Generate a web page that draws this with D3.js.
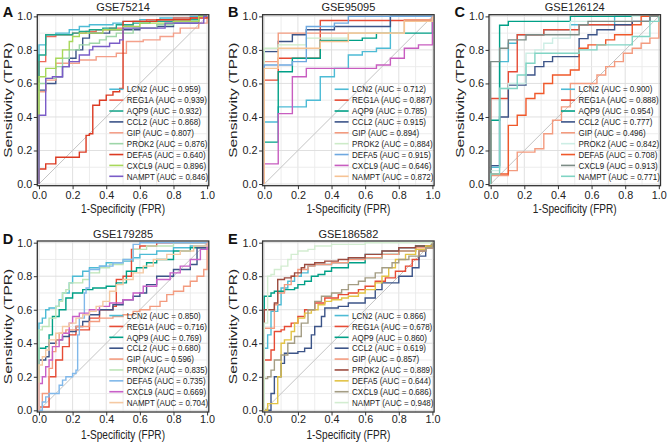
<!DOCTYPE html>
<html><head><meta charset="utf-8">
<script src="https://cdn.jsdelivr.net/npm/d3@7"></script>
<style>body{margin:0;background:#fff}svg{display:block}</style>
</head><body>
<svg id="chart" width="668" height="444"></svg>
<script>
const genes = ["LCN2","REG1A","AQP9","CCL2","GIP","PROK2","DEFA5","CXCL9","NAMPT"];
const titles = ["GSE75214","GSE95095","GSE126124","GSE179285","GSE186582"];
const letters = ["A","B","C","D","E"];
const tickValues = [0,0.2,0.4,0.6,0.8,1.0];
const tickLabels = ["0.0","0.2","0.4","0.6","0.8","1.0"];

// AUC values per dataset (legend order)
const aucA = ["0.959","0.939","0.932","0.868","0.807","0.876","0.640","0.896","0.846"];
const aucB = ["0.712","0.887","0.785","0.915","0.894","0.884","0.915","0.646","0.872"];
const aucC = ["0.900","0.888","0.954","0.777","0.496","0.842","0.708","0.913","0.771"];
const aucD = ["0.850","0.716","0.769","0.680","0.596","0.835","0.735","0.669","0.704"];
const aucE = ["0.866","0.678","0.860","0.619","0.857","0.889","0.644","0.686","0.948"];

// colours per dataset (legend order)
const colorsA = ["#4DBBD5","#EE6A5A","#1FA88E","#3C5488","#F4A08A","#9ED6A8","#DC3A22","#A8D85A","#7A5CC8"];
const colorsB = ["#4DBBD5","#E64B35","#00A087","#3C5488","#F39B7F","#CDEBC8","#6EA8E0","#C85DC0","#F6C394"];
const colorsC = ["#4DBBD5","#E64B35","#00A087","#3C5488","#F39B7F","#CDEEE5","#F0582A","#7C8C86","#80D4C4"];
const colorsD = ["#4DBBD5","#E64B35","#00A087","#3C5488","#F39B7F","#BDE5B8","#80B8EA","#C860C8","#F5C9A2"];
const colorsE = ["#4DBBD5","#E64B35","#00A087","#3C5488","#F39B7F","#9C4B3F","#E2C345","#A49D84","#D3EDD1"];

// ROC step points: [FPR, TPR reached at that FPR]
const rocA = [
 [[0,0.83],[0.04,0.89],[0.1,0.9],[0.18,0.92],[0.24,0.94],[0.3,0.95],[0.44,0.96],[0.5,0.97],[0.6,0.98],[0.72,0.99],[0.9,1]],
 [[0,0.73],[0.04,0.88],[0.1,0.89],[0.2,0.9],[0.28,0.91],[0.34,0.92],[0.42,0.93],[0.5,0.95],[0.56,0.97],[0.64,0.98],[0.8,0.99],[0.95,1]],
 [[0,0.77],[0.04,0.89],[0.2,0.9],[0.24,0.91],[0.3,0.92],[0.38,0.93],[0.46,0.95],[0.56,0.96],[0.66,0.97],[0.8,0.98],[0.95,1]],
 [[0,0.56],[0.04,0.6],[0.1,0.64],[0.14,0.7],[0.18,0.75],[0.22,0.8],[0.26,0.87],[0.3,0.9],[0.42,0.92],[0.6,0.93],[0.7,0.94],[0.8,0.96],[0.95,1]],
 [[0,0.55],[0.04,0.62],[0.1,0.72],[0.24,0.74],[0.34,0.76],[0.46,0.78],[0.52,0.85],[0.62,0.86],[0.72,0.88],[0.8,0.9],[0.84,0.93],[0.95,0.96],[1,1]],
 [[0,0.6],[0.04,0.63],[0.1,0.7],[0.14,0.75],[0.18,0.8],[0.24,0.83],[0.3,0.84],[0.36,0.86],[0.4,0.88],[0.46,0.9],[0.56,0.93],[0.7,0.95],[0.8,0.97],[0.95,1]],
 [[0,0.09],[0.04,0.12],[0.1,0.16],[0.24,0.19],[0.28,0.29],[0.3,0.3],[0.32,0.47],[0.36,0.5],[0.4,0.53],[0.44,0.55],[0.48,0.57],[0.5,0.97],[0.7,0.98],[0.9,0.99],[1,1]],
 [[0,0.64],[0.04,0.69],[0.1,0.75],[0.14,0.8],[0.18,0.85],[0.2,0.88],[0.24,0.9],[0.38,0.92],[0.5,0.94],[0.6,0.96],[0.8,0.97],[0.95,1]],
 [[0,0.41],[0.04,0.63],[0.08,0.64],[0.14,0.7],[0.18,0.73],[0.24,0.77],[0.3,0.8],[0.32,0.82],[0.42,0.84],[0.48,0.86],[0.5,0.93],[0.75,0.96],[0.98,1]]
];
const rocB = [
 [[0,0.37],[0.083,0.46],[0.25,0.5],[0.333,0.64],[0.417,0.69],[0.5,0.77],[0.583,0.79],[0.667,0.81],[0.75,1]],
 [[0,0.62],[0.083,0.75],[0.333,0.975],[1,1]],
 [[0,0.25],[0.083,0.67],[0.167,0.75],[0.333,0.857],[0.583,0.87],[0.667,0.9],[1,1]],
 [[0,0.79],[0.083,0.85],[0.167,0.89],[0.25,0.92],[0.417,0.94],[0.75,1]],
 [[0,0.73],[0.083,0.9],[0.833,0.98],[1,1]],
 [[0,0.81],[0.083,0.83],[0.25,0.87],[0.5,0.9],[0.833,0.97],[1,1]],
 [[0,0.71],[0.167,0.73],[0.25,0.94],[0.417,0.96],[0.5,1]],
 [[0,0.12],[0.083,0.42],[0.167,0.64],[0.25,0.69],[0.667,0.71],[0.75,0.75],[0.833,0.81],[0.917,0.83],[1,1]],
 [[0,0.69],[0.083,0.81],[0.333,0.85],[0.5,0.9],[0.833,0.97],[1,1]]
];
const rocC = [
 [[0,0.1],[0.053,0.73],[0.105,0.84],[0.158,0.89],[0.316,0.92],[0.474,0.95],[0.737,1]],
 [[0,0.51],[0.105,0.67],[0.158,0.89],[0.316,0.92],[0.526,0.95],[0.842,1]],
 [[0,0.38],[0.053,0.947],[0.105,0.97],[0.474,1]],
 [[0,0.11],[0.053,0.4],[0.105,0.59],[0.21,0.65],[0.263,0.7],[0.316,0.73],[0.368,0.76],[0.526,0.867],[0.579,0.89],[0.632,0.92],[0.737,0.95],[0.842,0.97],[0.947,1]],
 [[0,0.05],[0.105,0.08],[0.158,0.19],[0.263,0.21],[0.316,0.3],[0.368,0.38],[0.421,0.46],[0.474,0.6],[0.632,0.65],[0.684,0.7],[0.737,0.73],[0.789,0.78],[0.842,0.81],[0.895,0.84],[0.947,0.87],[1,1]],
 [[0,0.08],[0.053,0.57],[0.105,0.6],[0.21,0.78],[0.263,0.8],[0.316,0.84],[0.368,0.87],[0.474,0.97],[0.842,1]],
 [[0,0.06],[0.105,0.35],[0.158,0.41],[0.21,0.51],[0.263,0.54],[0.316,0.6],[0.368,0.65],[0.474,0.68],[0.526,0.81],[0.579,0.83],[0.684,0.86],[0.737,0.89],[0.842,0.95],[0.895,1]],
 [[0,0.73],[0.053,0.81],[0.105,0.86],[0.21,0.89],[0.526,0.95],[0.579,0.97],[0.947,1]],
 [[0,0.06],[0.053,0.57],[0.158,0.65],[0.21,0.72],[0.263,0.78],[0.526,0.8],[0.632,0.83],[0.842,0.88],[0.947,0.97],[1,1]]
];
const rocD = [
 [[0,0.52],[0.02,0.55],[0.04,0.6],[0.06,0.61],[0.1,0.62],[0.12,0.66],[0.14,0.7],[0.18,0.76],[0.2,0.8],[0.26,0.83],[0.3,0.85],[0.36,0.86],[0.4,0.88],[0.5,0.89],[0.56,0.91],[0.6,0.93],[0.7,0.95],[0.8,0.97],[0.9,0.98],[1,1]],
 [[0,0.02],[0.06,0.2],[0.1,0.3],[0.14,0.38],[0.18,0.45],[0.22,0.48],[0.3,0.55],[0.36,0.6],[0.44,0.62],[0.46,0.78],[0.5,0.8],[0.55,0.96],[0.6,0.98],[0.7,1]],
 [[0,0.37],[0.04,0.38],[0.06,0.45],[0.08,0.56],[0.12,0.6],[0.16,0.67],[0.2,0.7],[0.26,0.72],[0.32,0.73],[0.4,0.74],[0.46,0.76],[0.52,0.83],[0.58,0.85],[0.64,0.88],[0.7,0.9],[0.8,0.95],[0.9,0.97],[1,1]],
 [[0,0.3],[0.04,0.32],[0.06,0.4],[0.1,0.42],[0.14,0.44],[0.18,0.47],[0.22,0.5],[0.26,0.53],[0.3,0.57],[0.36,0.6],[0.44,0.63],[0.5,0.66],[0.56,0.68],[0.6,0.7],[0.64,0.75],[0.7,0.8],[0.8,0.84],[0.9,0.87],[0.94,0.97],[1,1]],
 [[0,0.02],[0.02,0.1],[0.06,0.25],[0.08,0.35],[0.1,0.42],[0.12,0.46],[0.16,0.48],[0.22,0.5],[0.3,0.53],[0.36,0.55],[0.44,0.56],[0.5,0.57],[0.56,0.59],[0.6,0.6],[0.66,0.62],[0.72,0.65],[0.76,0.69],[0.8,0.71],[0.86,0.74],[0.9,0.77],[0.94,0.8],[0.98,0.84],[1,1]],
 [[0,0.48],[0.02,0.5],[0.06,0.55],[0.1,0.62],[0.12,0.65],[0.14,0.7],[0.16,0.72],[0.18,0.76],[0.26,0.78],[0.3,0.82],[0.36,0.85],[0.42,0.87],[0.5,0.9],[0.56,0.96],[0.64,0.98],[0.8,1]],
 [[0,0],[0.02,0.05],[0.04,0.08],[0.06,0.1],[0.12,0.15],[0.14,0.18],[0.16,0.2],[0.2,0.22],[0.22,0.24],[0.23,0.45],[0.24,0.55],[0.27,0.7],[0.28,0.73],[0.3,0.84],[0.36,0.86],[0.44,0.88],[0.5,0.9],[0.56,0.99],[0.6,1]],
 [[0,0.16],[0.02,0.2],[0.04,0.26],[0.06,0.3],[0.08,0.38],[0.12,0.42],[0.14,0.46],[0.18,0.52],[0.2,0.56],[0.24,0.58],[0.3,0.6],[0.36,0.62],[0.42,0.64],[0.5,0.66],[0.56,0.7],[0.62,0.74],[0.7,0.78],[0.78,0.82],[0.84,0.86],[0.9,0.9],[0.96,0.96],[1,1]],
 [[0,0.27],[0.02,0.32],[0.04,0.36],[0.06,0.42],[0.1,0.46],[0.14,0.5],[0.18,0.52],[0.22,0.55],[0.26,0.57],[0.3,0.59],[0.34,0.62],[0.38,0.65],[0.42,0.71],[0.46,0.75],[0.5,0.78],[0.56,0.82],[0.62,0.86],[0.68,0.9],[0.76,0.93],[0.84,0.95],[0.92,0.98],[1,1]]
];
const rocE = [
 [[0,0.37],[0.02,0.45],[0.04,0.59],[0.08,0.63],[0.1,0.73],[0.14,0.77],[0.18,0.8],[0.22,0.82],[0.26,0.86],[0.3,0.87],[0.4,0.88],[0.5,0.91],[0.6,0.93],[0.7,0.95],[0.8,0.97],[0.9,0.98],[1,1]],
 [[0,0.3],[0.04,0.36],[0.06,0.47],[0.1,0.48],[0.12,0.5],[0.16,0.52],[0.2,0.56],[0.24,0.6],[0.3,0.64],[0.36,0.67],[0.44,0.69],[0.5,0.7],[0.56,0.72],[0.6,0.74],[0.66,0.77],[0.72,0.79],[0.78,0.83],[0.84,0.86],[0.88,0.9],[0.92,0.95],[0.96,0.97],[1,1]],
 [[0,0.68],[0.04,0.7],[0.06,0.71],[0.12,0.72],[0.18,0.73],[0.2,0.75],[0.24,0.77],[0.28,0.8],[0.32,0.81],[0.36,0.83],[0.4,0.85],[0.5,0.88],[0.6,0.91],[0.7,0.93],[0.8,0.95],[0.9,0.98],[1,1]],
 [[0,0],[0.04,0.1],[0.06,0.2],[0.1,0.28],[0.12,0.34],[0.2,0.35],[0.24,0.37],[0.28,0.45],[0.3,0.5],[0.34,0.56],[0.36,0.61],[0.44,0.62],[0.5,0.64],[0.6,0.67],[0.66,0.72],[0.7,0.76],[0.8,0.8],[0.88,0.85],[0.92,0.92],[0.96,0.97],[1,1]],
 [[0,0.49],[0.06,0.63],[0.08,0.7],[0.12,0.75],[0.16,0.8],[0.2,0.84],[0.26,0.86],[0.3,0.87],[0.4,0.88],[0.5,0.9],[0.6,0.91],[0.7,0.93],[0.8,0.95],[0.9,0.97],[1,1]],
 [[0,0.6],[0.06,0.64],[0.08,0.78],[0.12,0.79],[0.16,0.8],[0.18,0.82],[0.22,0.85],[0.24,0.87],[0.3,0.88],[0.36,0.89],[0.44,0.9],[0.5,0.91],[0.6,0.93],[0.7,0.95],[0.8,0.97],[0.9,0.98],[1,1]],
 [[0,0],[0.02,0.04],[0.08,0.2],[0.1,0.4],[0.12,0.42],[0.16,0.47],[0.18,0.52],[0.2,0.55],[0.24,0.58],[0.28,0.6],[0.32,0.63],[0.36,0.65],[0.4,0.66],[0.46,0.67],[0.5,0.68],[0.56,0.7],[0.6,0.72],[0.66,0.76],[0.7,0.8],[0.74,0.85],[0.78,0.9],[0.84,0.93],[0.9,0.96],[0.96,0.98],[1,1]],
 [[0,0.19],[0.02,0.2],[0.04,0.24],[0.06,0.3],[0.1,0.33],[0.14,0.4],[0.18,0.44],[0.22,0.52],[0.26,0.6],[0.3,0.65],[0.34,0.68],[0.4,0.7],[0.46,0.72],[0.5,0.75],[0.56,0.77],[0.6,0.79],[0.66,0.82],[0.7,0.85],[0.76,0.88],[0.8,0.9],[0.86,0.92],[0.92,0.95],[0.96,0.97],[1,1]],
 [[0,0.52],[0.02,0.8],[0.04,0.81],[0.06,0.84],[0.1,0.86],[0.14,0.9],[0.16,0.93],[0.2,0.95],[0.26,0.96],[0.3,0.98],[0.4,0.99],[0.6,1]]
];

const datasets = [
  {roc: rocA, auc: aucA, colors: colorsA},
  {roc: rocB, auc: aucB, colors: colorsB},
  {roc: rocC, auc: aucC, colors: colorsC},
  {roc: rocD, auc: aucD, colors: colorsD},
  {roc: rocE, auc: aucE, colors: colorsE}
];

// layout
const FONT = "'Liberation Sans', Arial, Helvetica, sans-serif";
const pw = 171.5, ph = 171;
const pos = [[37.3,14.7],[262.6,14.7],[489,14.7],[37.3,241],[262.6,241]];
const xlabOff = [27.5,27.5,27.5,26.5,26.5];
const xtickPad = [2,2,2,0.3,0.3];

const svg = d3.select("#chart");
svg.append("rect").attr("width",668).attr("height",444).attr("fill","#fff");

datasets.forEach((ds, k) => {
  const [L, T] = pos[k];
  const g = svg.append("g").attr("transform", `translate(${L},${T})`);
  const x = d3.scaleLinear().domain([-0.01, 1.01]).range([0, pw]);
  const y = d3.scaleLinear().domain([-0.01, 1.01]).range([ph, 0]);

  // grid
  const gv = d3.range(0, 1.0001, 0.1);
  g.append("g").selectAll("line").data(gv).join("line")
    .attr("x1", d => x(d)).attr("x2", d => x(d)).attr("y1", 0).attr("y2", ph)
    .attr("stroke", (d,i) => i % 2 === 0 ? "#dcdcdc" : "#eaeaea").attr("stroke-width", 0.9);
  g.append("g").selectAll("line").data(gv).join("line")
    .attr("y1", d => y(d)).attr("y2", d => y(d)).attr("x1", 0).attr("x2", pw)
    .attr("stroke", (d,i) => i % 2 === 0 ? "#dcdcdc" : "#eaeaea").attr("stroke-width", 0.9);

  // diagonal
  g.append("line").attr("x1", x(0)).attr("y1", y(0)).attr("x2", x(1)).attr("y2", y(1))
    .attr("stroke", "#c4c4c4").attr("stroke-width", 1);

  // curves
  const line = d3.line().x(d => x(d[0])).y(d => y(d[1])).curve(d3.curveStepAfter);
  ds.roc.forEach((pts, i) => {
    g.append("path").datum([[0,0], ...pts, [1,1]])
      .attr("d", line).attr("fill", "none")
      .attr("stroke", ds.colors[i]).attr("stroke-width", 1.4);
  });

  // legend
  genes.forEach((gname, i) => {
    const ry = 161.6 - (8 - i) * 10.88;
    g.append("line").attr("x1", 72).attr("x2", 86).attr("y1", ry).attr("y2", ry)
      .attr("stroke", ds.colors[i]).attr("stroke-width", 1.6);
    g.append("text").attr("transform", `translate(89.5,${ry + 3.2}) scale(0.93,1.15)`)
      .attr("font-family", FONT).attr("font-size", 8.6).attr("fill", "#222")
      .text(`${gname} (AUC = ${ds.auc[i]})`);
  });

  // frame
  g.append("rect").attr("width", pw).attr("height", ph).attr("fill", "none")
    .attr("stroke", "#333").attr("stroke-width", 1.3);

  // axes
  const xa = g.append("g").attr("transform", `translate(0,${ph})`)
    .call(d3.axisBottom(x).tickValues(tickValues).tickFormat((d,i) => tickLabels[i]).tickSize(3.5).tickPadding(xtickPad[k]));
  const ya = g.append("g")
    .call(d3.axisLeft(y).tickValues(tickValues).tickFormat((d,i) => tickLabels[i]).tickSize(3.5).tickPadding(1.5));
  [xa, ya].forEach(a => {
    a.select(".domain").remove();
    a.selectAll("line").attr("stroke", "#333").attr("stroke-width", 1);
    a.selectAll("text").attr("font-family", FONT).attr("font-size", 10.8).attr("fill", "#222");
  });

  // labels
  g.append("text").attr("transform", `translate(${pw/2},${ph + xlabOff[k]}) scale(0.8,1)`).attr("text-anchor", "middle")
    .attr("font-family", FONT).attr("font-size", 12.6).attr("fill", "#222").text("1-Specificity (FPR)");
  g.append("text").attr("transform", `translate(-25.5,${ph/2}) rotate(-90) scale(1,0.74)`).attr("text-anchor", "middle")
    .attr("font-family", FONT).attr("font-size", 15.5).attr("fill", "#222").text("Sensitivity (TPR)");
  g.append("text").attr("x", pw/2).attr("y", -3.5).attr("text-anchor", "middle")
    .attr("font-family", FONT).attr("font-size", 11).attr("fill", "#222").text(titles[k]);
  g.append("text").attr("x", -34.5).attr("y", 2.7)
    .attr("font-family", FONT).attr("font-size", 14.5).attr("font-weight", "bold").attr("fill", "#111").text(letters[k]);
});
</script>
</body></html>
